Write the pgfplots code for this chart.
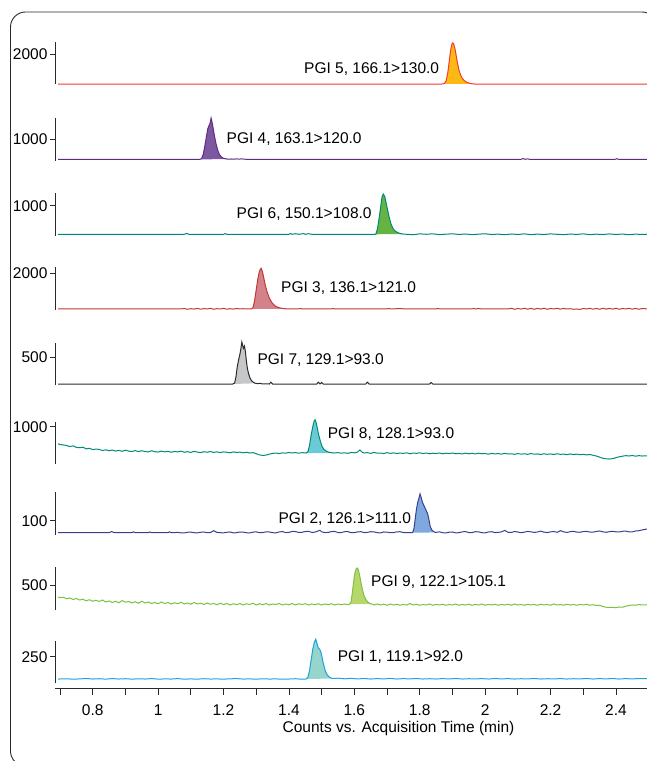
\documentclass[border=0pt]{standalone}
\usepackage{fontspec}
\setmainfont{Liberation Sans}
\usepackage{pgfplots}
\pgfplotsset{compat=1.18}
\definecolor{axc}{HTML}{2A2A2A}
\definecolor{l5}{HTML}{EE3B33}\definecolor{f5}{HTML}{FDB913}
\definecolor{l4}{HTML}{5E2C83}\definecolor{f4}{HTML}{7E57A2}
\definecolor{l6}{HTML}{00877B}\definecolor{f6}{HTML}{65B341}
\definecolor{l3}{HTML}{BF3A35}\definecolor{f3}{HTML}{D5818C}
\definecolor{l7}{HTML}{2B2B2B}\definecolor{f7}{HTML}{C6C7C8}
\definecolor{l8}{HTML}{008C78}\definecolor{f8}{HTML}{6ACAD6}
\definecolor{l2}{HTML}{3A3F8F}\definecolor{f2}{HTML}{7FA8DE}
\definecolor{l9}{HTML}{7DC142}\definecolor{f9}{HTML}{B7D66C}
\definecolor{l1}{HTML}{1BA3E0}\definecolor{f1}{HTML}{95D5CB}
\pgfplotsset{
  panel/.style={scale only axis, width=591.9bp, height=42.5bp,
    xmin=0.685, xmax=2.495, ymin=0, clip=false,
    axis x line=none, axis y line=left,
    y axis line style={-, line width=0.8bp, color=axc},
    tick align=outside, major tick length=5bp,
    ytick style={line width=0.8bp, color=axc},
    yticklabel style={inner sep=0pt, xshift=-2.5bp},
    /pgf/number format/assume math mode=true,
    anchor=south west},
  lin/.style={line width=1bp, draw=#1},
  pk/.style={fill=#1, draw=none},
}
\begin{document}
\fontsize{15.5bp}{18bp}\selectfont
\begin{tikzpicture}[x=1bp,y=1bp]
\path[use as bounding box] (0,0) rectangle (647,761);
\draw[line width=0.9bp, color=axc, rounded corners=15bp] (10.5,-5) rectangle (657,749);

% PGI 5
\begin{axis}[panel, at={(55.1bp,676.7bp)}, ymax=2833, ytick={2000}, yticklabels={2000}]
\addplot[pk=f5] coordinates {(1.870,20)(1.876,60)(1.881,250)(1.886,800)(1.890,1500)(1.894,2200)(1.898,2650)(1.901,2760)(1.904,2680)(1.908,2350)(1.912,1850)(1.916,1350)(1.920,950)(1.925,620)(1.930,400)(1.936,250)(1.943,140)(1.950,80)(1.958,40)(1.966,20)} -- cycle;
\addplot[lin=l5] coordinates {(0.694,15)(1.860,15)(1.870,20)(1.876,60)(1.881,250)(1.886,800)(1.890,1500)(1.894,2200)(1.898,2650)(1.901,2760)(1.904,2680)(1.908,2350)(1.912,1850)(1.916,1350)(1.920,950)(1.925,620)(1.930,400)(1.936,250)(1.943,140)(1.950,80)(1.958,40)(1.966,20)(1.975,15)(2.495,15)};
\end{axis}

% PGI 4
\begin{axis}[panel, at={(55.1bp,600.3bp)}, ymax=1986, ytick={1000}, yticklabels={1000}]
\addplot[pk=f4] coordinates {(1.128,65)(1.133,100)(1.138,300)(1.143,700)(1.148,1150)(1.152,1500)(1.156,1650)(1.159,1750)(1.162,1990)(1.165,1800)(1.169,1450)(1.173,1100)(1.177,800)(1.182,500)(1.187,300)(1.193,180)(1.199,120)(1.206,90)(1.213,75)(1.220,70)} -- cycle;
\addplot[lin=l4] coordinates {(0.694,65)(1.128,65)(1.133,100)(1.138,300)(1.143,700)(1.148,1150)(1.152,1500)(1.156,1650)(1.159,1750)(1.162,1990)(1.165,1800)(1.169,1450)(1.173,1100)(1.177,800)(1.182,500)(1.187,300)(1.193,180)(1.199,120)(1.206,90)(1.213,75)(1.220,70)(1.225,80)(1.232,70)(1.240,85)(1.248,70)(1.256,90)(1.262,70)(1.270,65)(2.110,65)(2.116,100)(2.122,65)(2.130,85)(2.136,65)(2.398,65)(2.402,95)(2.408,65)(2.495,65)};
\end{axis}

% PGI 6
\begin{axis}[panel, at={(55.1bp,525bp)}, ymax=1403, ytick={1000}, yticklabels={1000}]
\addplot[pk=f6] coordinates {(1.663,56)(1.666,60)(1.671,250)(1.676,600)(1.681,1000)(1.685,1300)(1.689,1386)(1.693,1300)(1.697,1100)(1.702,850)(1.707,600)(1.712,400)(1.718,250)(1.725,160)(1.733,110)(1.741,80)(1.749,65)} -- cycle;
\addplot[lin=l6] coordinates {(0.694,56)(1.080,56)(1.087,85)(1.094,56)(1.200,56)(1.205,80)(1.210,56)(1.400,56)(1.405,80)(1.410,56)(1.420,75)(1.430,56)(1.445,78)(1.450,56)(1.460,76)(1.470,56)(1.663,56)(1.666,60)(1.671,250)(1.676,600)(1.681,1000)(1.685,1300)(1.689,1386)(1.693,1300)(1.697,1100)(1.702,850)(1.707,600)(1.712,400)(1.718,250)(1.725,160)(1.733,110)(1.741,80)(1.749,65)(1.76,56)(1.78,40)(1.79,56)(1.80,70)(1.82,56)(1.84,72)(1.86,45)(1.88,60)(1.90,72)(1.92,50)(1.94,66)(1.96,45)(1.98,60)(2.00,74)(2.02,48)(2.04,62)(2.06,42)(2.08,66)(2.10,50)(2.12,70)(2.14,45)(2.16,62)(2.18,48)(2.20,70)(2.22,55)(2.24,44)(2.26,66)(2.28,52)(2.30,70)(2.32,45)(2.34,60)(2.36,48)(2.38,68)(2.40,50)(2.42,64)(2.44,44)(2.46,62)(2.48,50)(2.495,58)};
\end{axis}

% PGI 3
\begin{axis}[panel, at={(55.1bp,451bp)}, ymax=2316, ytick={2000}, yticklabels={2000}]
\addplot[pk=f3] coordinates {(1.285,55)(1.290,120)(1.295,500)(1.300,1100)(1.305,1700)(1.309,2050)(1.312,2200)(1.315,2272)(1.318,2150)(1.322,1850)(1.327,1400)(1.333,1000)(1.340,650)(1.348,400)(1.357,230)(1.367,140)(1.378,90)(1.390,65)} -- cycle;
\addplot[lin=l3] coordinates {(0.694,55)(1.07,55)(1.08,80)(1.09,40)(1.10,70)(1.11,50)(1.12,85)(1.13,45)(1.14,75)(1.15,55)(1.16,90)(1.17,40)(1.18,70)(1.19,55)(1.20,85)(1.21,45)(1.22,70)(1.23,50)(1.24,80)(1.25,55)(1.26,70)(1.27,55)(1.285,55)(1.290,120)(1.295,500)(1.300,1100)(1.305,1700)(1.309,2050)(1.312,2200)(1.315,2272)(1.318,2150)(1.322,1850)(1.327,1400)(1.333,1000)(1.340,650)(1.348,400)(1.357,230)(1.367,140)(1.378,90)(1.390,65)(1.40,55)(1.43,55)(1.435,85)(1.44,55)(1.53,55)(1.535,85)(1.54,55)(1.70,55)(1.705,85)(1.71,55)(1.745,80)(1.75,55)(1.85,55)(1.855,85)(1.86,55)(1.96,55)(1.965,90)(1.97,55)(1.98,80)(1.99,55)(2.07,55)(2.08,90)(2.09,40)(2.10,80)(2.11,50)(2.12,95)(2.13,45)(2.14,85)(2.15,40)(2.16,90)(2.17,50)(2.18,95)(2.19,40)(2.20,80)(2.21,55)(2.22,90)(2.23,45)(2.24,85)(2.25,55)(2.26,70)(2.27,40)(2.28,55)(2.29,30)(2.30,80)(2.31,55)(2.32,90)(2.33,45)(2.34,80)(2.35,40)(2.36,90)(2.37,50)(2.38,85)(2.39,45)(2.40,95)(2.41,40)(2.42,80)(2.43,55)(2.44,90)(2.45,45)(2.46,85)(2.47,40)(2.48,80)(2.495,60)};
\end{axis}

% PGI 7
\begin{axis}[panel, at={(55.1bp,375.7bp)}, ymax=759, ytick={500}, yticklabels={500}]
\addplot[pk=f7] coordinates {(1.228,23)(1.234,40)(1.238,150)(1.242,330)(1.246,450)(1.250,550)(1.253,650)(1.256,773)(1.259,700)(1.261,660)(1.264,700)(1.267,600)(1.270,430)(1.273,300)(1.277,200)(1.281,130)(1.286,80)(1.292,50)(1.298,35)} -- cycle;
\addplot[lin=l7] coordinates {(0.694,23)(1.228,23)(1.234,40)(1.238,150)(1.242,330)(1.246,450)(1.250,550)(1.253,650)(1.256,773)(1.259,700)(1.261,660)(1.264,700)(1.267,600)(1.270,430)(1.273,300)(1.277,200)(1.281,130)(1.286,80)(1.292,50)(1.298,35)(1.305,28)(1.312,35)(1.318,25)(1.340,23)(1.345,55)(1.350,23)(1.485,23)(1.490,55)(1.495,23)(1.500,50)(1.505,23)(1.635,23)(1.640,55)(1.645,23)(1.830,23)(1.835,50)(1.840,23)(2.495,23)};
\end{axis}

% PGI 8
\begin{axis}[panel, at={(55.1bp,296.7bp)}, ymax=1130, ytick={1000}, yticklabels={1000}]
\addplot[pk=f8] coordinates {(1.452,300)(1.458,330)(1.463,500)(1.468,780)(1.473,1000)(1.477,1150)(1.480,1186)(1.483,1120)(1.487,950)(1.491,780)(1.496,620)(1.501,480)(1.507,400)(1.514,350)(1.522,320)(1.530,310)(1.537,300)} -- cycle;
\addplot[lin=l8] coordinates {(0.694,545)(0.70,525)(0.71,515)(0.72,500)(0.73,470)(0.74,490)(0.75,450)(0.76,440)(0.77,455)(0.78,410)(0.79,425)(0.80,390)(0.81,405)(0.82,395)(0.83,365)(0.84,385)(0.85,360)(0.86,380)(0.87,350)(0.88,370)(0.89,345)(0.90,375)(0.91,350)(0.92,340)(0.93,365)(0.94,335)(0.95,360)(0.96,340)(0.97,330)(0.98,360)(0.99,335)(1.00,325)(1.01,350)(1.02,330)(1.03,345)(1.04,320)(1.05,340)(1.06,330)(1.07,350)(1.08,320)(1.09,335)(1.10,315)(1.11,345)(1.12,325)(1.13,310)(1.14,335)(1.15,320)(1.16,340)(1.17,315)(1.18,330)(1.19,310)(1.20,330)(1.21,320)(1.22,305)(1.23,330)(1.24,315)(1.25,325)(1.26,305)(1.27,320)(1.28,300)(1.29,310)(1.30,280)(1.31,250)(1.32,235)(1.33,245)(1.34,270)(1.35,290)(1.36,300)(1.37,285)(1.38,305)(1.39,295)(1.40,315)(1.41,300)(1.42,310)(1.43,295)(1.44,310)(1.452,300)(1.458,330)(1.463,500)(1.468,780)(1.473,1000)(1.477,1150)(1.480,1186)(1.483,1120)(1.487,950)(1.491,780)(1.496,620)(1.501,480)(1.507,400)(1.514,350)(1.522,320)(1.530,310)(1.537,300)(1.55,310)(1.56,295)(1.57,305)(1.58,290)(1.59,315)(1.60,305)(1.61,325)(1.617,380)(1.625,315)(1.63,300)(1.64,310)(1.65,290)(1.66,315)(1.67,295)(1.68,300)(1.69,285)(1.70,310)(1.71,290)(1.72,305)(1.73,285)(1.74,300)(1.75,290)(1.76,305)(1.77,280)(1.78,300)(1.79,290)(1.80,305)(1.81,285)(1.82,300)(1.83,280)(1.84,295)(1.85,285)(1.86,300)(1.87,280)(1.88,295)(1.89,285)(1.90,300)(1.91,280)(1.92,290)(1.93,275)(1.94,295)(1.95,280)(1.96,290)(1.97,275)(1.98,295)(1.99,280)(2.00,285)(2.01,270)(2.02,290)(2.03,275)(2.04,285)(2.05,270)(2.06,290)(2.07,275)(2.08,280)(2.09,265)(2.10,285)(2.11,270)(2.12,280)(2.13,265)(2.14,285)(2.15,270)(2.16,275)(2.17,260)(2.18,280)(2.19,265)(2.20,275)(2.21,260)(2.22,280)(2.23,265)(2.24,270)(2.25,255)(2.26,275)(2.27,260)(2.28,270)(2.29,255)(2.30,265)(2.31,250)(2.32,260)(2.33,240)(2.34,220)(2.35,190)(2.36,160)(2.37,145)(2.38,140)(2.39,150)(2.40,175)(2.41,200)(2.42,215)(2.43,230)(2.44,220)(2.45,235)(2.46,215)(2.47,230)(2.48,220)(2.495,225)};
\end{axis}

% PGI 2
\begin{axis}[panel, at={(55.1bp,226bp)}, ymax=297, ytick={100}, yticklabels={100}]
\addplot[pk=f2] coordinates {(1.778,16)(1.782,40)(1.786,110)(1.790,180)(1.794,230)(1.798,260)(1.801,287)(1.804,265)(1.808,230)(1.812,210)(1.816,190)(1.820,170)(1.824,150)(1.828,110)(1.832,60)(1.837,35)(1.842,25)(1.848,18)} -- cycle;
\addplot[lin=l2] coordinates {(0.694,16)(0.850,16)(0.858,24)(0.866,16)(0.920,16)(0.925,22)(0.930,16)(0.970,16)(0.975,21)(0.980,16)(1.030,16)(1.035,22)(1.040,16)(1.06,18)(1.07,15)(1.08,14)(1.09,19)(1.10,20)(1.11,16)(1.12,15)(1.13,19)(1.14,21)(1.15,16)(1.16,17)(1.17,30)(1.18,18)(1.19,16)(1.20,15)(1.21,19)(1.22,21)(1.23,15)(1.24,16)(1.25,21)(1.26,20)(1.27,16)(1.28,14)(1.29,20)(1.30,22)(1.31,16)(1.32,17)(1.33,22)(1.34,21)(1.35,16)(1.36,15)(1.37,21)(1.38,24)(1.39,17)(1.40,18)(1.41,25)(1.42,24)(1.43,18)(1.44,19)(1.45,24)(1.46,26)(1.47,18)(1.48,20)(1.495,33)(1.50,22)(1.51,17)(1.52,18)(1.53,24)(1.54,25)(1.55,17)(1.56,17)(1.57,23)(1.58,24)(1.59,16)(1.60,16)(1.61,22)(1.62,23)(1.63,17)(1.64,18)(1.65,23)(1.66,22)(1.67,16)(1.68,15)(1.69,21)(1.70,20)(1.71,16)(1.72,17)(1.73,22)(1.74,23)(1.75,17)(1.76,16)(1.778,16)(1.782,40)(1.786,110)(1.790,180)(1.794,230)(1.798,260)(1.801,287)(1.804,265)(1.808,230)(1.812,210)(1.816,190)(1.820,170)(1.824,150)(1.828,110)(1.832,60)(1.837,35)(1.842,25)(1.848,18)(1.86,22)(1.87,16)(1.88,14)(1.89,20)(1.90,21)(1.91,15)(1.92,16)(1.93,22)(1.94,24)(1.95,17)(1.96,17)(1.97,23)(1.98,22)(1.99,16)(2.00,15)(2.01,21)(2.02,23)(2.03,17)(2.04,18)(2.05,22)(2.06,32)(2.07,19)(2.08,18)(2.09,24)(2.10,21)(2.11,16)(2.12,20)(2.13,25)(2.14,22)(2.15,18)(2.16,21)(2.17,27)(2.18,20)(2.19,17)(2.20,22)(2.21,24)(2.22,19)(2.23,30)(2.24,22)(2.25,18)(2.26,23)(2.27,26)(2.28,20)(2.29,19)(2.30,24)(2.31,25)(2.32,21)(2.33,20)(2.34,25)(2.35,28)(2.36,22)(2.37,19)(2.38,23)(2.39,26)(2.40,22)(2.41,21)(2.42,26)(2.43,27)(2.44,22)(2.45,22)(2.46,28)(2.47,30)(2.48,35)(2.495,42)};
\end{axis}

% PGI 9
\begin{axis}[panel, at={(55.1bp,151bp)}, ymax=850, ytick={500}, yticklabels={500}]
\addplot[pk=f9] coordinates {(1.585,115)(1.590,160)(1.594,350)(1.598,570)(1.602,740)(1.606,830)(1.609,840)(1.612,810)(1.616,700)(1.620,560)(1.625,400)(1.630,280)(1.636,200)(1.643,150)(1.650,125)(1.656,115)} -- cycle;
\addplot[lin=l9] coordinates {(0.694,260)(0.70,245)(0.71,255)(0.72,225)(0.73,240)(0.74,210)(0.75,230)(0.76,200)(0.77,215)(0.78,185)(0.79,205)(0.80,175)(0.81,195)(0.82,170)(0.83,200)(0.84,160)(0.85,180)(0.86,150)(0.87,175)(0.88,145)(0.89,190)(0.90,155)(0.91,170)(0.92,140)(0.93,165)(0.94,135)(0.95,175)(0.96,140)(0.97,160)(0.98,130)(0.99,150)(1.00,125)(1.01,160)(1.02,130)(1.03,150)(1.04,120)(1.05,145)(1.06,125)(1.07,155)(1.08,120)(1.09,140)(1.10,115)(1.11,150)(1.12,120)(1.13,135)(1.14,110)(1.15,140)(1.16,115)(1.17,130)(1.18,105)(1.19,135)(1.20,110)(1.21,130)(1.22,100)(1.23,125)(1.24,105)(1.25,130)(1.26,100)(1.27,125)(1.28,110)(1.29,135)(1.30,100)(1.31,125)(1.32,105)(1.33,130)(1.34,100)(1.35,120)(1.36,110)(1.37,130)(1.38,100)(1.39,120)(1.40,105)(1.41,130)(1.42,100)(1.43,125)(1.44,110)(1.45,125)(1.46,100)(1.47,120)(1.48,105)(1.49,125)(1.50,100)(1.51,120)(1.52,105)(1.53,125)(1.54,100)(1.55,120)(1.56,105)(1.57,120)(1.58,105)(1.585,115)(1.590,160)(1.594,350)(1.598,570)(1.602,740)(1.606,830)(1.609,840)(1.612,810)(1.616,700)(1.620,560)(1.625,400)(1.630,280)(1.636,200)(1.643,150)(1.650,125)(1.656,115)(1.66,100)(1.67,120)(1.68,100)(1.69,115)(1.70,95)(1.71,120)(1.72,100)(1.73,115)(1.74,95)(1.75,110)(1.76,100)(1.77,130)(1.78,100)(1.79,115)(1.80,95)(1.81,110)(1.82,100)(1.83,120)(1.84,95)(1.85,110)(1.86,100)(1.87,115)(1.88,95)(1.89,110)(1.90,100)(1.91,120)(1.92,95)(1.93,110)(1.94,100)(1.95,115)(1.96,95)(1.97,110)(1.98,100)(1.99,120)(2.00,95)(2.01,110)(2.02,100)(2.03,115)(2.04,95)(2.05,110)(2.06,100)(2.07,115)(2.08,95)(2.09,120)(2.10,100)(2.11,110)(2.12,95)(2.13,115)(2.14,100)(2.15,110)(2.16,95)(2.17,115)(2.18,100)(2.19,110)(2.20,95)(2.21,120)(2.22,100)(2.23,110)(2.24,95)(2.25,115)(2.26,100)(2.27,110)(2.28,95)(2.29,110)(2.30,100)(2.31,115)(2.32,95)(2.33,105)(2.34,90)(2.35,95)(2.36,70)(2.37,55)(2.38,50)(2.39,55)(2.40,45)(2.41,60)(2.42,55)(2.43,75)(2.44,90)(2.45,100)(2.46,95)(2.47,110)(2.48,100)(2.495,105)};
\end{axis}

% PGI 1
\begin{axis}[panel, at={(55.1bp,77.7bp)}, ymax=399, ytick={250}, yticklabels={250}]
\addplot[pk=f1] coordinates {(1.452,40)(1.458,55)(1.463,120)(1.468,220)(1.473,320)(1.478,390)(1.482,414)(1.486,370)(1.490,330)(1.494,320)(1.497,300)(1.501,250)(1.505,190)(1.510,130)(1.515,90)(1.521,65)(1.527,52)(1.533,45)} -- cycle;
\addplot[lin=l1] coordinates {(0.694,40)(0.72,42)(0.74,39)(0.76,41)(0.78,45)(0.80,40)(0.82,43)(0.84,39)(0.86,44)(0.88,40)(0.90,43)(0.92,39)(0.94,42)(0.96,40)(0.98,44)(1.00,39)(1.02,41)(1.04,40)(1.06,44)(1.08,39)(1.10,41)(1.12,39)(1.14,43)(1.16,40)(1.18,41)(1.20,39)(1.22,42)(1.24,44)(1.26,40)(1.28,41)(1.30,39)(1.32,42)(1.34,40)(1.36,41)(1.38,39)(1.40,40)(1.42,43)(1.44,38)(1.452,40)(1.458,55)(1.463,120)(1.468,220)(1.473,320)(1.478,390)(1.482,414)(1.486,370)(1.490,330)(1.494,320)(1.497,300)(1.501,250)(1.505,190)(1.510,130)(1.515,90)(1.521,65)(1.527,52)(1.533,45)(1.55,48)(1.57,42)(1.59,46)(1.61,41)(1.63,45)(1.65,40)(1.67,44)(1.69,41)(1.71,46)(1.73,40)(1.75,44)(1.77,41)(1.79,45)(1.81,40)(1.83,43)(1.85,40)(1.87,44)(1.89,41)(1.91,45)(1.93,40)(1.95,43)(1.97,41)(1.99,44)(2.01,40)(2.03,45)(2.05,41)(2.07,44)(2.09,40)(2.11,43)(2.13,41)(2.15,45)(2.17,40)(2.19,43)(2.21,41)(2.23,44)(2.25,40)(2.27,43)(2.29,41)(2.31,45)(2.33,40)(2.35,44)(2.37,41)(2.39,45)(2.41,40)(2.43,44)(2.45,41)(2.47,45)(2.495,43)};
\end{axis}

% time axis
\begin{axis}[scale only axis, width=591.9bp, height=10bp, at={(55.1bp,73bp)}, anchor=south west,
  xmin=0.685, xmax=2.495, ymin=0, ymax=1,
  axis y line=none, axis x line=bottom,
  x axis line style={-, line width=0.8bp, color=axc},
  tick align=outside, major tick length=7bp, minor tick length=7bp,
  xtick style={line width=0.8bp, color=axc},
  xtick={0.8,1.0,1.2,1.4,1.6,1.8,2.0,2.2,2.4},
  xticklabels={0.8,1,1.2,1.4,1.6,1.8,2,2.2,2.4},
  minor xtick={0.7,0.9,1.1,1.3,1.5,1.7,1.9,2.1,2.3},
  xticklabel style={inner sep=0pt, anchor=base, yshift=-20bp},
  /pgf/number format/assume math mode=true]
\end{axis}

\node[anchor=base, inner sep=0pt] at (398.5,28.5) {Counts vs. Acquisition Time (min)};

\begin{scope}[every node/.style={anchor=base west, inner sep=0pt}]
\node at (304,687.7) {PGI 5, 166.1>130.0};
\node at (226.5,617.7) {PGI 4, 163.1>120.0};
\node at (236.5,542.7) {PGI 6, 150.1>108.0};
\node at (281,468.3) {PGI 3, 136.1>121.0};
\node at (257.3,396) {PGI 7, 129.1>93.0};
\node at (327.7,322.7) {PGI 8, 128.1>93.0};
\node at (278.3,237.7) {PGI 2, 126.1>111.0};
\node at (371,174.3) {PGI 9, 122.1>105.1};
\node at (337.7,99.3) {PGI 1, 119.1>92.0};
\end{scope}
\end{tikzpicture}
\end{document}
